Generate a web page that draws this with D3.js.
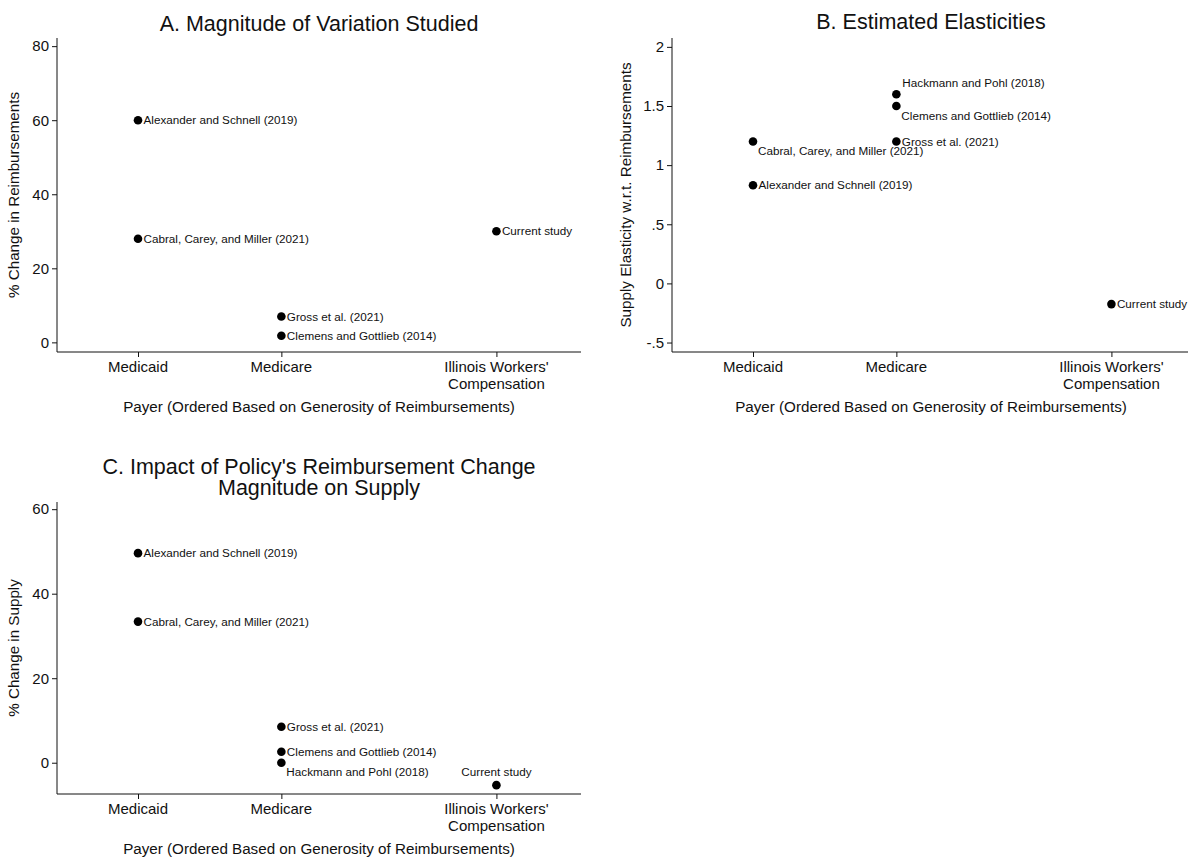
<!DOCTYPE html>
<html>
<head>
<meta charset="utf-8">
<script src="https://cdn.jsdelivr.net/npm/d3@7"></script>
<style>
  html, body { margin: 0; padding: 0; background: #ffffff; }
  svg { display: block; font-family: "Liberation Sans", Arial, Helvetica, sans-serif; }
</style>
</head>
<body>
<svg id="chart" width="1188" height="858"></svg>
<script>
// Payers on the x axis, ordered by generosity of reimbursements
const payers = ["Medicaid", "Medicare", "Illinois Workers' Compensation"];
const payerPosition = [1, 2, 3.5];

// Studies and the payer each one examined
const studies = [
  "Alexander and Schnell (2019)",
  "Cabral, Carey, and Miller (2021)",
  "Gross et al. (2021)",
  "Clemens and Gottlieb (2014)",
  "Hackmann and Pohl (2018)",
  "Current study"
];
const studyPayer = ["Medicaid", "Medicaid", "Medicare", "Medicare", "Medicare", "Illinois Workers' Compensation"];

// Panel values (null = study not shown in that panel)
const reimbursementChange = [60, 28, 7, 1.8, null, 30];
const supplyElasticity = [0.83, 1.2, 1.2, 1.5, 1.6, -0.175];
const supplyChange = [49.6, 33.4, 8.5, 2.6, 0, -5.3];

// Tick labels
const ticksA = [0, 20, 40, 60, 80];
const ticksB = [-0.5, 0, 0.5, 1, 1.5, 2];
const ticksC = [0, 20, 40, 60];

const svg = d3.select("#chart");
const ink = "#111";

// Stata-style numbers: drop the leading zero (.5, -.5)
const stataNum = v => String(v).replace(/^0\./, ".").replace(/^-0\./, "-.");

// Where each marker label sits, as a clock position relative to its marker
const labelClock = {
  B: { "Hackmann and Pohl (2018)": 1, "Clemens and Gottlieb (2014)": 5, "Cabral, Carey, and Miller (2021)": 5 },
  C: { "Hackmann and Pohl (2018)": 5, "Current study": 12 }
};

const plotWidth = 524;

const panels = [
  { key: "A", title: ["A. Magnitude of Variation Studied"], yTitle: "% Change in Reimbursements",
    values: reimbursementChange, ticks: ticksA, fmt: d3.format("d"),
    left: 57, top: 38, bottom: 352, yDomain: [-2.6, 82.2],
    titleX: 319, titleY: 31, yTitleX: 19, xTitleX: 319 },
  { key: "B", title: ["B. Estimated Elasticities"], yTitle: "Supply Elasticity w.r.t. Reimbursements",
    values: supplyElasticity, ticks: ticksB, fmt: stataNum,
    left: 672, top: 38, bottom: 352, yDomain: [-0.58, 2.075],
    titleX: 931, titleY: 29, yTitleX: 631, xTitleX: 931 },
  { key: "C", title: ["C. Impact of Policy's Reimbursement Change", "Magnitude on Supply"], yTitle: "% Change in Supply",
    values: supplyChange, ticks: ticksC, fmt: d3.format("d"),
    left: 57, top: 502, bottom: 794, yDomain: [-7.4, 61.7],
    titleX: 319, titleY: 473.5, yTitleX: 19, xTitleX: 319 }
];

panels.forEach(p => {
  const g = svg.append("g");
  const x = d3.scaleLinear().domain([0.435, 4.09]).range([p.left, p.left + plotWidth]);
  const y = d3.scaleLinear().domain(p.yDomain).range([p.bottom, p.top]);

  // y axis
  const yAxis = g.append("g")
    .attr("transform", `translate(${p.left},0)`)
    .call(d3.axisLeft(y).tickValues(p.ticks).tickFormat(p.fmt).tickSize(5).tickPadding(3));
  yAxis.select(".domain").attr("stroke", ink).attr("d", `M0,${p.top}V${p.bottom}`);
  yAxis.selectAll(".tick line").attr("stroke", ink);
  yAxis.selectAll(".tick text").attr("fill", ink).attr("font-size", 15).attr("font-family", null);

  // x axis
  const xAxis = g.append("g")
    .attr("transform", `translate(0,${p.bottom})`)
    .call(d3.axisBottom(x).tickValues(payerPosition).tickFormat("").tickSize(5));
  xAxis.select(".domain").attr("stroke", ink).attr("d", `M${p.left},0H${p.left + plotWidth}`);
  xAxis.selectAll(".tick line").attr("stroke", ink);

  // payer labels, wrapped onto two lines where needed
  payers.forEach((name, i) => {
    const lines = name === "Illinois Workers' Compensation" ? ["Illinois Workers'", "Compensation"] : [name];
    const t = g.append("text")
      .attr("x", x(payerPosition[i])).attr("y", p.bottom + 20)
      .attr("text-anchor", "middle").attr("font-size", 15).attr("fill", ink);
    lines.forEach((l, j) => t.append("tspan").attr("x", x(payerPosition[i])).attr("dy", j ? 17 : 0).text(l));
  });

  // axis titles
  g.append("text")
    .attr("x", p.xTitleX)
    .attr("y", p.bottom + 60)
    .attr("text-anchor", "middle").attr("font-size", 15.2).attr("fill", ink)
    .text("Payer (Ordered Based on Generosity of Reimbursements)");

  g.append("text")
    .attr("transform", `translate(${p.yTitleX},${(p.top + p.bottom) / 2}) rotate(-90)`)
    .attr("text-anchor", "middle").attr("font-size", 15.2).attr("fill", ink)
    .text(p.yTitle);

  // panel title, one text element per line
  p.title.forEach((l, j) => g.append("text")
    .attr("x", p.titleX).attr("y", p.titleY + j * 21.5)
    .attr("text-anchor", "middle").attr("font-size", 21.5).attr("fill", ink)
    .text(l));

  // markers and their labels
  const pts = studies.map((s, i) => ({
    study: s, px: x(payerPosition[payers.indexOf(studyPayer[i])]), v: p.values[i]
  })).filter(d => d.v !== null);

  g.selectAll("circle.pt").data(pts).join("circle")
    .attr("class", "pt")
    .attr("cx", d => d.px).attr("cy", d => y(d.v)).attr("r", 4.3).attr("fill", "#000");

  pts.forEach(d => {
    const clock = (labelClock[p.key] || {})[d.study] || 3;
    const px = d.px, py = y(d.v);
    let lx = px + 5.5, ly = py + 4.2, anchor = "start";
    if (clock === 1) { lx = px + 6; ly = py - 7; }
    if (clock === 5) { lx = px + 5; ly = py + 13.5; }
    if (clock === 12) { lx = px; ly = py - 9; anchor = "middle"; }
    g.append("text").attr("x", lx).attr("y", ly).attr("text-anchor", anchor)
      .attr("font-size", 11.7).attr("fill", ink).text(d.study);
  });
});
</script>
</body>
</html>
